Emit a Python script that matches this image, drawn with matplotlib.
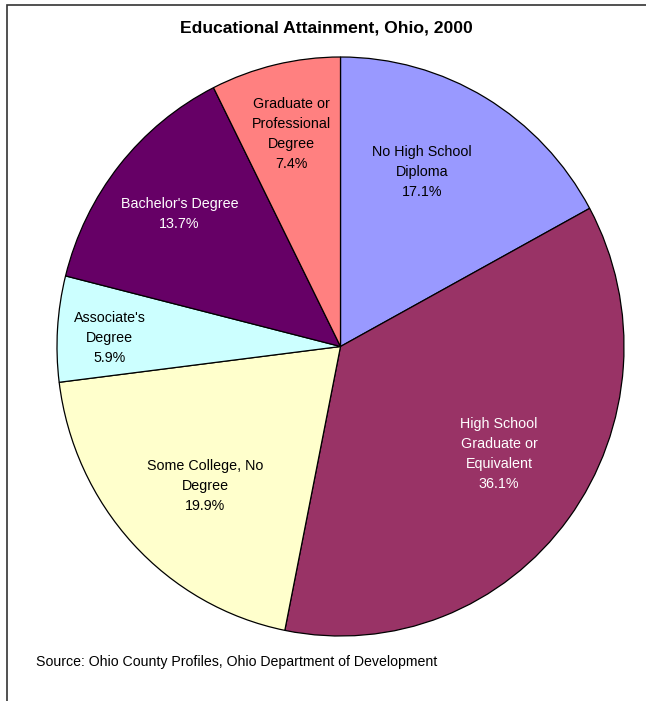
import numpy as np
import matplotlib
matplotlib.use("Agg")
import matplotlib.pyplot as plt
from matplotlib.patches import Rectangle

plt.rcParams['font.family'] = ['Liberation Sans', 'DejaVu Sans']

categories = ["No High School\nDiploma", "High School\nGraduate or\nEquivalent",
              "Some College, No\nDegree", "Associate's\nDegree",
              "Bachelor's Degree", "Graduate or\nProfessional\nDegree"]
values = [17.1, 36.1, 19.9, 5.9, 13.7, 7.4]
pct_labels = ["17.1%", "36.1%", "19.9%", "5.9%", "13.7%", "7.4%"]
colors = ["#9999FF", "#993366", "#FFFFCC", "#CCFFFF", "#660066", "#FF8080"]
text_colors = ["black", "white", "black", "black", "white", "black"]
# label placement (radial distance, angle offset in degrees from wedge centre)
label_r = [0.668, 0.671, 0.679, 0.814, 0.729, 0.754]
label_dang = [5.3, 2.9, 2.5, 1.5, 0.0, 0.0]

W, H = 646, 701
fig = plt.figure(figsize=(W / 100, H / 100), dpi=100)
fig.patch.set_facecolor("white")

# outer frame (only top and left visible in crop)
fig.add_artist(Rectangle((7 / W, -0.1), 1.2, (H - 5) / H + 0.1, transform=fig.transFigure,
                         fill=False, edgecolor="#333333", linewidth=1.2))

cx, cy, rx, ry = 340.5, 346.5, 283.5, 289.5
ax = fig.add_axes([(cx - rx) / W, (H - cy - ry) / H, 2 * rx / W, 2 * ry / H])
wedges, _ = ax.pie(values, colors=colors, startangle=90, counterclock=False,
                   wedgeprops=dict(edgecolor="black", linewidth=0.9))
ax.set_aspect("auto")
ax.set_xlim(-1, 1)
ax.set_ylim(-1, 1)
ax.axis("off")

for w, cat, pct, tc, r, da in zip(wedges, categories, pct_labels, text_colors, label_r, label_dang):
    ang = np.deg2rad((w.theta1 + w.theta2) / 2 + da)
    ax.text(r * np.cos(ang), r * np.sin(ang), cat + "\n" + pct, ha="center", va="center",
            color=tc, fontsize=10.3, linespacing=1.55)

fig.text(326.5 / W, 1 - 28 / H, "Educational Attainment, Ohio, 2000", ha="center", va="center",
         fontsize=12.6, fontweight="bold")
fig.text(36 / W, 1 - 662 / H, "Source: Ohio County Profiles, Ohio Department of Development",
         ha="left", va="center", fontsize=10.2)

fig.savefig("out.png", dpi=100)
